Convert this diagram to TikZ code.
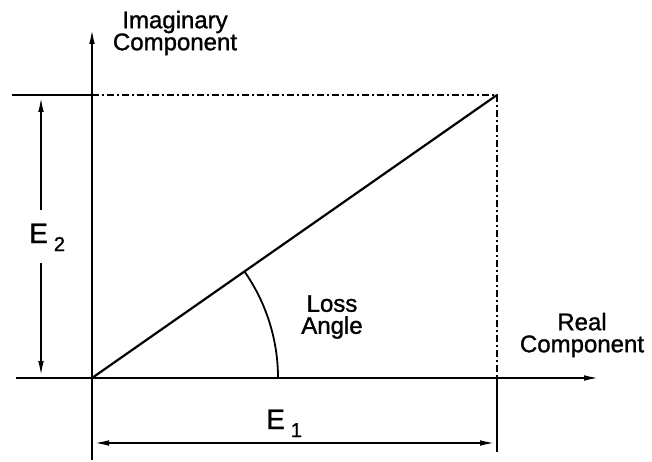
\documentclass[tikz,border=0pt]{standalone}
\usepackage{fontspec}
\setmainfont{Liberation Sans}
\newfontfamily\lblfont[FakeBold=1.2]{Liberation Sans}
\usetikzlibrary{arrows.meta}
\begin{document}
\begin{tikzpicture}[x=1pt,y=-1pt,
  ln/.style={line width=2.2pt},
  dd/.style={line width=1.8pt, dash pattern=on 7pt off 3pt on 2pt off 3pt},
  tip/.style={-{Latex[length=17pt,width=5.5pt]}},
  lbl/.style={font=\lblfont\fontsize{24}{22}\selectfont, align=center, inner sep=0pt},
  elbl/.style={font=\lblfont\fontsize{28}{28}\selectfont, inner sep=0pt, anchor=base west}]
\useasboundingbox (0,0) rectangle (652,462);
% key points
\coordinate (O) at (92,378);
\coordinate (P) at (497,95);
\coordinate (ytop) at (92,27);
\coordinate (ybot) at (92,460);
\coordinate (xleft) at (16,378);
\coordinate (xright) at (601,378);
\coordinate (tl) at (12,95);
\coordinate (tm) at (92,95);
\coordinate (Pbot) at (497,378);
\coordinate (Pend) at (497,452);
\coordinate (e2t) at (41,95);
\coordinate (e2a) at (41,210);
\coordinate (e2c) at (41,263);
\coordinate (e2b) at (41,378);
\coordinate (e1l) at (92,443);
\coordinate (e1r) at (497,443);
% axes
\draw[ln,tip] (ybot) -- (ytop);
\draw[ln,tip] (xleft) -- (xright);
% rectangle edges
\draw[ln] (tl) -- (tm);
\draw[dd] (tm) -- (P) -- (Pbot);
\draw[ln] (Pbot) -- (Pend);
% vector
\draw[ln] (O) -- (P);
% loss angle arc
\draw[line width=1.8pt] (O) ++(186,0) arc[start angle=0, end angle=-34.94, radius=186];
% E2 dimension
\draw[ln,tip] (e2a) -- (e2t);
\draw[ln,tip] (e2c) -- (e2b);
% E1 dimension
\draw[ln,{Latex[length=17pt,width=5.5pt]}-{Latex[length=17pt,width=5.5pt]}] (e1l) -- (e1r);
% labels
\node[lbl] (imag) at (175,33) {Imaginary\\Component};
\node[lbl] (loss) at (332,317) {Loss\\Angle};
\node[lbl] (real) at (582,335) {Real\\Component};
\node[elbl] (E2) at (29,243) {E\hspace{6pt}\raisebox{-8pt}{\fontsize{20}{20}\selectfont 2}};
\node[elbl] (E1) at (266,429) {E\hspace{6pt}\raisebox{-8pt}{\fontsize{20}{20}\selectfont 1}};
\end{tikzpicture}
\end{document}
